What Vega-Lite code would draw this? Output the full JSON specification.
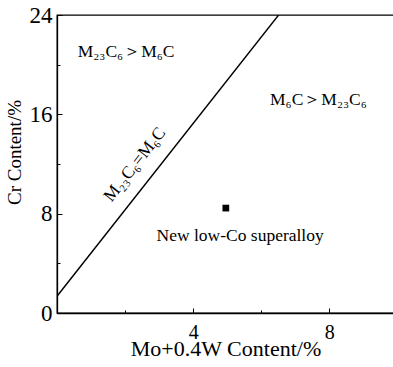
{
  "$schema": "https://vega.github.io/schema/vega-lite/v6.json",
  "width": 337,
  "height": 298,
  "autosize": "none",
  "padding": {"left": 57, "top": 15, "right": 0, "bottom": 54},
  "config": {
    "view": {"stroke": "black", "strokeWidth": 1.3},
    "font": "Liberation Serif",
    "text": {"font": "Liberation Serif"},
    "axis": {
      "domainColor": "black",
      "domainWidth": 1.3,
      "tickColor": "black",
      "tickWidth": 1,
      "grid": false,
      "labelColor": "black",
      "titleColor": "black",
      "labelFont": "Liberation Serif",
      "titleFont": "Liberation Serif",
      "titleFontWeight": "normal"
    }
  },
  "layer": [
    {
      "data": {"values": [{"x": 0, "y": 1.35}, {"x": 6.51, "y": 24}]},
      "mark": {"type": "line", "color": "black", "strokeWidth": 1.4, "clip": true},
      "encoding": {
        "x": {
          "field": "x", "type": "quantitative",
          "scale": {"domain": [0, 9.9], "nice": false, "zero": false},
          "axis": {
            "values": [0, 2, 4, 6, 8],
            "labelExpr": "datum.value == 4 || datum.value == 8 ? datum.label : ''",
            "tickSize": {"condition": {"test": "datum.value % 4 === 0", "value": -5}, "value": -3},
            "labelFontSize": 20,
            "labelPadding": 14,
            "title": "Mo+0.4W Content/%",
            "titleFontSize": 22,
            "titlePadding": -4
          }
        },
        "y": {
          "field": "y", "type": "quantitative",
          "scale": {"domain": [0, 24], "nice": false, "zero": false},
          "axis": {
            "values": [0, 4, 8, 12, 16, 20, 24],
            "labelExpr": "datum.value % 8 === 0 ? datum.label : ''",
            "tickSize": {"condition": {"test": "datum.value % 8 === 0", "value": -5}, "value": -3},
            "labelFontSize": 23,
            "labelPadding": 10,
            "title": "Cr Content/%",
            "titleFontSize": 19,
            "titleY": 137,
            "titlePadding": 5
          }
        }
      }
    },
    {
      "data": {"values": [{"x": 4.96, "y": 8.45}]},
      "mark": {"type": "square", "color": "black", "filled": true, "opacity": 1, "size": 45},
      "encoding": {
        "x": {"field": "x", "type": "quantitative"},
        "y": {"field": "y", "type": "quantitative"}
      }
    },
    {
      "data": {"values": [
        {"x": 2.03, "y": 21.0, "t": "M₂₃C₆＞M₆C"},
        {"x": 7.68, "y": 17.15, "t": "M₆C＞M₂₃C₆"},
        {"x": 5.38, "y": 6.2, "t": "New low-Co superalloy"}
      ]},
      "mark": {"type": "text", "color": "black", "fontSize": 17.5, "font": "Liberation Serif", "align": "center", "baseline": "middle"},
      "encoding": {
        "x": {"field": "x", "type": "quantitative"},
        "y": {"field": "y", "type": "quantitative"},
        "text": {"field": "t"}
      }
    },
    {
      "data": {"values": [{"x": 2.29, "y": 11.95, "t": "M₂₃C₆=M₆C"}]},
      "mark": {"type": "text", "color": "black", "fontSize": 17.5, "font": "Liberation Serif", "align": "center", "baseline": "middle", "angle": -52},
      "encoding": {
        "x": {"field": "x", "type": "quantitative"},
        "y": {"field": "y", "type": "quantitative"},
        "text": {"field": "t"}
      }
    }
  ]
}
